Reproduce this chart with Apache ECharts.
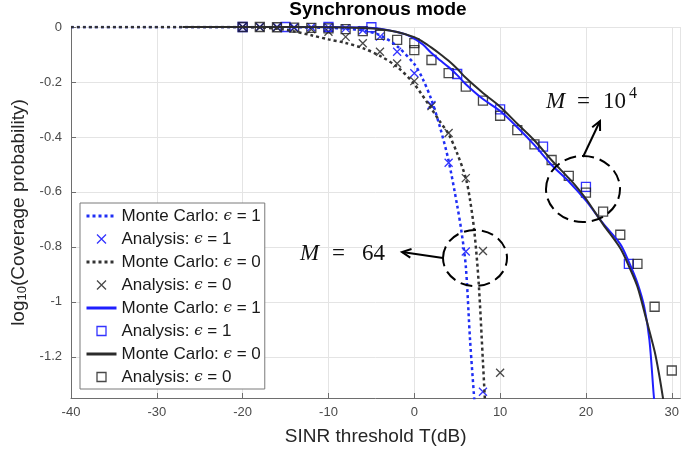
<!DOCTYPE html>
<html lang="en">
<head>
<meta charset="utf-8" />
<title>Synchronous mode</title>
<script src="https://cdn.jsdelivr.net/npm/echarts@6/dist/echarts.min.js"></script>
<style>
  html, body { margin: 0; padding: 0; background: #fff; }
  #main { width: 682px; height: 453px; }
</style>
</head>
<body>
<div id="main"></div>
<script>
// SINR threshold T (dB) -> log10(coverage probability)

// M = 64
var mc64e1T = [-40, -20, -14, -10, -8, -6, -4, -2, 0, 1, 2, 3, 4, 5, 5.5, 6, 6.5, 7];
var mc64e1V = [0, 0, -0.001, -0.003, -0.006, -0.012, -0.03, -0.07, -0.135, -0.19, -0.265, -0.365, -0.487, -0.65, -0.745, -0.87, -1.14, -1.36];

var an64e1T = [-20, -18, -16, -14, -12, -10, -8, -6, -4, -2, 0, 2, 4, 6, 8];
var an64e1V = [0, 0, 0, -0.001, -0.001, -0.002, -0.005, -0.012, -0.035, -0.09, -0.168, -0.284, -0.494, -0.817, -1.327];

var mc64e0T = [-40, -20, -18, -16, -14, -12, -10, -8, -6, -4, -2, 0, 2, 3, 4, 5, 6, 6.5, 7, 7.5, 8, 8.25];
var mc64e0V = [0, 0, -0.002, -0.006, -0.016, -0.03, -0.045, -0.058, -0.077, -0.105, -0.145, -0.208, -0.298, -0.345, -0.39, -0.46, -0.55, -0.63, -0.745, -0.93, -1.22, -1.37];

var an64e0T = [-20, -18, -16, -14, -12, -10, -8, -6, -4, -2, 0, 2, 4, 6, 8, 10];
var an64e0V = [0, -0.001, -0.002, -0.004, -0.008, -0.017, -0.036, -0.059, -0.09, -0.133, -0.197, -0.288, -0.386, -0.55, -0.815, -1.258];

// M = 10^4
var mc4e1T = [-20, -10, -6, -4, -2, -1, 0, 1, 2, 3, 4, 5, 6, 8, 10, 12, 14, 16, 18, 20, 22, 24, 25, 26, 26.8, 27.4, 27.9, 28.1];
var mc4e1V = [0, 0, -0.002, -0.006, -0.018, -0.027, -0.042, -0.064, -0.095, -0.121, -0.146, -0.175, -0.208, -0.262, -0.306, -0.365, -0.43, -0.502, -0.562, -0.632, -0.715, -0.79, -0.855, -0.932, -1.02, -1.14, -1.34, -1.4];

var an4e1T = [-20, -15, -10, -5, 5, 10, 15, 20, 25];
var an4e1V = [0, 0, 0, -0.001, -0.171, -0.3, -0.435, -0.582, -0.862];

var mc4e0T = [-27, -20, -10, -6, -4, -2, 0, 1, 2, 3, 4, 5, 6, 8, 10, 12, 14, 16, 18, 19, 20, 22, 24, 25, 26, 27, 28, 28.5, 29, 29.1];
var mc4e0V = [0, 0, -0.001, -0.004, -0.008, -0.018, -0.037, -0.054, -0.075, -0.098, -0.123, -0.152, -0.185, -0.24, -0.29, -0.352, -0.413, -0.485, -0.55, -0.585, -0.625, -0.718, -0.805, -0.87, -0.945, -1.06, -1.18, -1.26, -1.355, -1.38];

var an4e0T = [-20, -18, -16, -14, -12, -10, -8, -6, -4, -2, 0, 0, 2, 4, 6, 8, 10, 12, 14, 16, 18, 20, 22, 24, 26, 28, 30];
var an4e0V = [0, 0, -0.001, -0.002, -0.003, -0.005, -0.008, -0.015, -0.029, -0.047, -0.059, -0.084, -0.12, -0.168, -0.217, -0.268, -0.323, -0.375, -0.427, -0.484, -0.542, -0.603, -0.672, -0.756, -0.862, -1.018, -1.25];

var xTicks = [-40, -30, -20, -10, 0, 10, 20, 30];

var BLUE = '#0000ff';
var BLACK = '#1a1a1a';
var CROSS = 'path://M0,0L10,10M10,0L0,10';
var SQUARE = 'path://M0,0L10,0L10,10L0,10Z';

function pairs(xs, ys) {
    return xs.map(function (x, i) { return [x, ys[i]]; });
}

function lineSeries(name, xs, ys, color, dotted) {
    return {
        name: name,
        type: 'line',
        data: pairs(xs, ys),
        symbol: 'none',
        smooth: 0.3,
        clip: true,
        lineStyle: { color: color, width: dotted ? 2.5 : 2, type: dotted ? [3, 3] : 'solid' },
        itemStyle: { color: color }
    };
}

function markSeries(name, xs, ys, color, symbol) {
    return {
        name: name,
        type: 'scatter',
        data: pairs(xs, ys),
        symbol: symbol,
        symbolSize: symbol === SQUARE ? 9 : 8,
        itemStyle: { color: 'transparent', borderColor: color, borderWidth: 1.3 }
    };
}

var series = [
    lineSeries('Monte Carlo: ϵ = 1 (M = 64)', mc64e1T, mc64e1V, '#1f2ef5', true),
    markSeries('Analysis: ϵ = 1 (M = 64)', an64e1T, an64e1V, BLUE, CROSS),
    lineSeries('Monte Carlo: ϵ = 0 (M = 64)', mc64e0T, mc64e0V, '#333333', true),
    markSeries('Analysis: ϵ = 0 (M = 64)', an64e0T, an64e0V, BLACK, CROSS),
    lineSeries('Monte Carlo: ϵ = 1 (M = 10^4)', mc4e1T, mc4e1V, '#1f1fff', false),
    markSeries('Analysis: ϵ = 1 (M = 10^4)', an4e1T, an4e1V, BLUE, SQUARE),
    lineSeries('Monte Carlo: ϵ = 0 (M = 10^4)', mc4e0T, mc4e0V, '#2b2b2b', false),
    markSeries('Analysis: ϵ = 0 (M = 10^4)', an4e0T, an4e0V, BLACK, SQUARE)
];

// legend entries: line series get no marker on their icon, and a thicker line
var legendData = series.map(function (s) {
    if (s.type === 'line') {
        return { name: s.name,
                 itemStyle: { color: 'transparent', borderColor: 'transparent', borderWidth: 0, opacity: 0 },
                 lineStyle: { width: 3 } };
    }
    return { name: s.name };
});

// annotation helpers (pixel positions of the callouts)
function txt(x, y, s, font) {
    return { type: 'text', x: x, y: y, z: 50,
        style: { text: s, font: font, fill: '#111', align: 'left', verticalAlign: 'middle',
                 textAlign: 'left', textVerticalAlign: 'middle' } };
}
function ellipse(cx, cy, rx, ry) {
    return { type: 'ellipse', z: 50, shape: { cx: cx, cy: cy, rx: rx, ry: ry },
        style: { fill: 'none', stroke: '#000', lineWidth: 2, lineDash: [12, 6] } };
}
function arrow(x1, y1, x2, y2) {
    var a = Math.atan2(y2 - y1, x2 - x1), L = 10, w = 0.45;
    return [
        { type: 'line', z: 50, shape: { x1: x1, y1: y1, x2: x2, y2: y2 }, style: { stroke: '#000', lineWidth: 2 } },
        { type: 'polyline', z: 50, shape: { points: [
            [x2 - L * Math.cos(a - w), y2 - L * Math.sin(a - w)], [x2, y2],
            [x2 - L * Math.cos(a + w), y2 - L * Math.sin(a + w)]] },
          style: { stroke: '#000', lineWidth: 2, fill: 'none' } }
    ];
}

var serifI = 'italic 23px "Liberation Serif"';
var serif = '23px "Liberation Serif"';
var graphics = [
    { type: 'text', x: 378, y: 10, z: 50,
      style: { text: 'Synchronous mode', font: 'bold 19px "Liberation Sans"', fill: '#000',
               align: 'center', verticalAlign: 'middle', textAlign: 'center', textVerticalAlign: 'middle' } },
    ellipse(583, 189, 37, 33),
    ellipse(475, 258, 32, 28),
    txt(546, 102, 'M', serifI),
    txt(577, 102, '=', serif),
    txt(603, 102, '10', serif),
    txt(629, 94, '4', '16px "Liberation Serif"'),
    txt(300, 254, 'M', serifI),
    txt(332, 254, '=', serif),
    txt(362, 254, '64', serif)
].concat(arrow(583, 157, 600, 121), arrow(443, 258, 402, 252));

var chart = echarts.init(document.getElementById('main'), null, { renderer: 'canvas' });

chart.setOption({
    animation: false,
    backgroundColor: '#fff',
    grid: { left: 71, top: 27, width: 613, height: 371, containLabel: false },
    xAxis: {
        type: 'value', min: -40, max: 31, interval: 10,
        name: 'SINR threshold T(dB)', nameLocation: 'middle', nameGap: 29,
        nameTextStyle: { fontSize: 19, fontFamily: 'Liberation Sans', color: '#262626' },
        axisLine: { show: true, onZero: false, lineStyle: { color: '#6e6e6e', width: 1 } },
        axisTick: { show: true, inside: true, length: 5, lineStyle: { color: '#6e6e6e' } },
        axisLabel: { fontSize: 13, fontFamily: 'Liberation Sans', color: '#4a4a4a', margin: 8,
                     showMaxLabel: false,
                     formatter: function (v) { return xTicks.indexOf(v) >= 0 ? String(v) : ''; } },
        splitLine: { show: true, lineStyle: { color: '#e4e4e4', width: 1 } }
    },
    yAxis: {
        type: 'value', min: -1.35, max: 0, splitNumber: 7,
        name: 'log{s|10}(Coverage probability)', nameLocation: 'middle', nameGap: 34,
        nameTextStyle: { fontSize: 19, fontFamily: 'Liberation Sans', color: '#262626',
                         rich: { s: { fontSize: 13, fontFamily: 'Liberation Sans', color: '#262626', padding: [7, 0, 0, 0] } } },
        axisLine: { show: true, onZero: false, lineStyle: { color: '#6e6e6e', width: 1 } },
        axisTick: { show: true, inside: true, length: 5, lineStyle: { color: '#6e6e6e' } },
        axisLabel: { fontSize: 13, fontFamily: 'Liberation Sans', color: '#4a4a4a', margin: 9,
                     showMinLabel: false,
                     formatter: function (v) {
                         var r = Math.round(v * 5) / 5;
                         return Math.abs(r - v) < 1e-6 ? String(+r.toFixed(1)) : '';
                     } },
        splitLine: { show: true, lineStyle: { color: '#e4e4e4', width: 1 } }
    },
    legend: {
        orient: 'vertical', left: 80, top: 203,
        padding: [3, 4, 2, 5], itemGap: 3, itemWidth: 30, itemHeight: 9, itemTextGap: 3,
        backgroundColor: '#fff', borderColor: '#7a7a7a', borderWidth: 1, borderRadius: 0,
        itemStyle: { borderWidth: 1.3 },
        textStyle: { fontSize: 17, fontFamily: 'Liberation Sans', color: '#1a1a1a', lineHeight: 20,
                     rich: { e: { fontSize: 15, fontFamily: 'DejaVu Serif', fontStyle: 'italic', color: '#1a1a1a', lineHeight: 20 } } },
        formatter: function (name) {
            return name.replace(/ \(M = .*\)$/, '').replace('ϵ', '{e|ϵ}');
        },
        data: legendData
    },
    graphic: graphics,
    series: series
});
</script>
</body>
</html>
